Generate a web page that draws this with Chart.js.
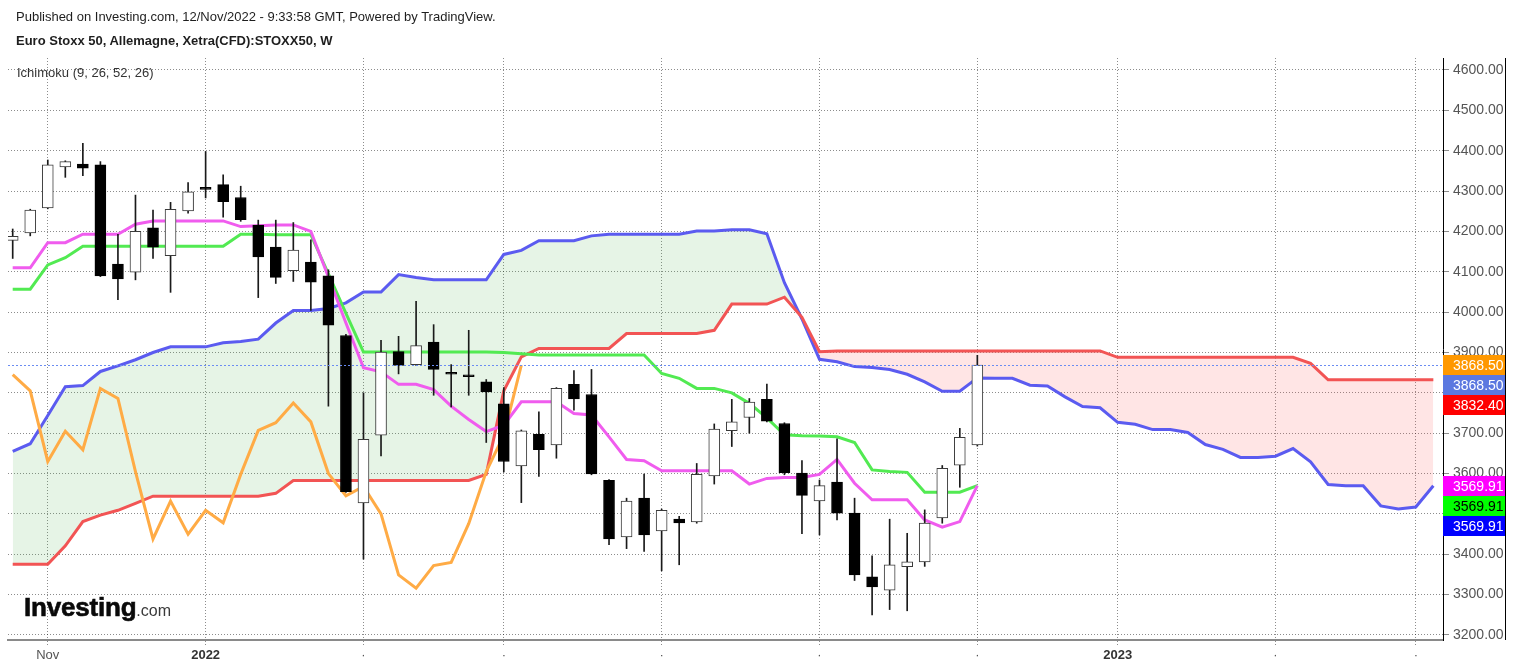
<!DOCTYPE html>
<html>
<head>
<meta charset="utf-8">
<title>Euro Stoxx 50 - Ichimoku</title>
<script src="https://cdn.jsdelivr.net/npm/chart.js@4.4.0/dist/chart.umd.min.js"></script>
<style>
  html, body { margin: 0; padding: 0; background: #fff; }
  #wrap { position: relative; width: 1513px; height: 668px; overflow: hidden; }
  #chart { position: absolute; left: 0; top: 0; }
  .txt { position: absolute; font-family: "Liberation Sans", Arial, sans-serif; color: #1e1e1e; white-space: nowrap; }
</style>
</head>
<body>
<div id="wrap">
  <canvas id="chart" width="1513" height="668"></canvas>
  <div class="txt" style="left:16px;top:9px;font-size:13px;line-height:15px;">Published on Investing.com, 12/Nov/2022 - 9:33:58 GMT, Powered by TradingView.</div>
  <div class="txt" style="left:16px;top:33px;font-size:13px;line-height:15px;font-weight:bold;">Euro Stoxx 50, Allemagne, Xetra(CFD):STOXX50, W</div>
  <div class="txt" style="left:17px;top:65px;font-size:13px;line-height:15px;color:#333;">Ichimoku (9, 26, 52, 26)</div>
  <div class="txt" style="left:24px;top:594px;line-height:26px;"><span style="font-size:26px;font-weight:bold;color:#0a0a0a;letter-spacing:-0.2px;-webkit-text-stroke:0.6px #0a0a0a;">Investing</span><span style="font-size:16px;color:#3a3a3a;">.com</span></div>
</div>
<script>
// weekly candles, index 0 = week of 18/Oct/2021, index 55 = week of 07/Nov/2022
const opens  = [4178, 4196, 4258, 4360, 4367, 4365, 4119, 4099, 4209, 4140, 4251, 4307, 4316, 4284, 4216, 4161, 4103, 4124, 4090, 3942,
                3527, 3695, 3902, 3870, 3926, 3849, 3843, 3827, 3773, 3619, 3697, 3671, 3821, 3796, 3583, 3443, 3539, 3458, 3487, 3480,
                3594, 3706, 3739, 3784, 3724, 3601, 3532, 3579, 3502, 3344, 3311, 3369, 3381, 3490, 3621, 3671];
const highs  = [4206, 4255, 4377, 4375, 4418, 4373, 4193, 4290, 4253, 4272, 4321, 4398, 4340, 4312, 4228, 4228, 4222, 4179, 4105, 3945,
                3800, 3930, 3940, 4027, 3969, 3870, 3955, 3833, 3813, 3708, 3753, 3813, 3855, 3858, 3585, 3539, 3599, 3512, 3494, 3625,
                3723, 3784, 3786, 3822, 3726, 3632, 3584, 3686, 3539, 3396, 3487, 3452, 3510, 3620, 3712, 3893];
const lows   = [4133, 4189, 4256, 4334, 4338, 4088, 4031, 4080, 4133, 4049, 4245, 4283, 4235, 4225, 4036, 4071, 4076, 4004, 3767, 3553,
                3388, 3644, 3847, 3868, 3794, 3765, 3794, 3677, 3604, 3528, 3593, 3638, 3757, 3597, 3424, 3414, 3407, 3359, 3374, 3477,
                3574, 3667, 3700, 3728, 3597, 3451, 3448, 3485, 3335, 3250, 3263, 3260, 3370, 3477, 3566, 3668];
const closes = [4188, 4253, 4365, 4373, 4357, 4090, 4082, 4200, 4161, 4255, 4298, 4304, 4274, 4229, 4137, 4086, 4154, 4074, 3968, 3555,
                3685, 3901, 3868, 3917, 3858, 3846, 3840, 3802, 3630, 3706, 3659, 3811, 3785, 3599, 3438, 3532, 3448, 3509, 3478, 3598,
                3710, 3728, 3777, 3730, 3602, 3546, 3570, 3502, 3349, 3319, 3374, 3381, 3477, 3613, 3690, 3868.5];

// Ichimoku lines
const conversionLine = [4110, 4110, 4172, 4172, 4193, 4193, 4193, 4218, 4226, 4226, 4226, 4226, 4226, 4212, 4214, 4216, 4216, 4200, 4087, 3973,
                        3862, 3852, 3821, 3821, 3808, 3767, 3734, 3704, 3720, 3778, 3778, 3778, 3749, 3745, 3691, 3635, 3632, 3607, 3607, 3607,
                        3607, 3607, 3574, 3588, 3590, 3590, 3598, 3635, 3576, 3535, 3535, 3535, 3485, 3467, 3481, 3569.91];
const baseLine = [4057, 4057, 4117, 4135, 4163, 4163, 4163, 4163, 4163, 4163, 4163, 4163, 4163, 4193, 4193, 4192, 4192, 4192, 4095, 3997,
                  3901, 3901, 3901, 3901, 3901, 3901, 3901, 3901, 3900, 3897, 3894, 3894, 3894, 3894, 3894, 3894, 3894, 3848, 3836, 3811,
                  3811, 3800, 3774, 3738, 3696, 3694, 3693, 3691, 3677, 3609, 3605, 3603, 3554, 3554, 3554, 3569.91];
const laggingSpan = [3845, 3805, 3630, 3705, 3659, 3811, 3786, 3605, 3438, 3532, 3450, 3509, 3478, 3598, 3707, 3726, 3775, 3728, 3600, 3545,
                     3568, 3500, 3349, 3316, 3372, 3380, 3476, 3605, 3695, 3868.5];
const leadingSpanA = [3655, 3674, 3744, 3815, 3818, 3853, 3867, 3882, 3900, 3914, 3914, 3914, 3924, 3927, 3933, 3973, 4004, 4004, 4009, 4023,
                      4050, 4050, 4093, 4086, 4080, 4080, 4080, 4080, 4143, 4153, 4177, 4177, 4177, 4189, 4193, 4193, 4193, 4193, 4193, 4201,
                      4201, 4204, 4204, 4194, 4073, 3983, 3883, 3877, 3865, 3863, 3858, 3846, 3827, 3804, 3804, 3837, 3836, 3836, 3819, 3817,
                      3790, 3766, 3763, 3727, 3722, 3709, 3709, 3702, 3672, 3660, 3640, 3640, 3643, 3662, 3629, 3573, 3570, 3570, 3520, 3512,
                      3517, 3569.91];
const leadingSpanB = [3375, 3375, 3375, 3421, 3481, 3497, 3509, 3526, 3544, 3544, 3544, 3544, 3544, 3544, 3544, 3551, 3583, 3583, 3583, 3583,
                      3583, 3583, 3583, 3583, 3583, 3583, 3583, 3598, 3805, 3889, 3910, 3910, 3910, 3910, 3910, 3947, 3947, 3947, 3947, 3947,
                      3955, 4020, 4020, 4020, 4037, 3987, 3902, 3904, 3904, 3904, 3904, 3904, 3904, 3904, 3904, 3904, 3904, 3904, 3904, 3904,
                      3904, 3904, 3904, 3888, 3888, 3888, 3888, 3888, 3888, 3888, 3888, 3888, 3888, 3888, 3873, 3832.4, 3832.4, 3832.4, 3832.4, 3832.4,
                      3832.4, 3832.4];

// axes
const xTickPos = [2, 11, 20, 28, 37, 46, 55, 63, 72, 80];
const xTickLabels = ['Nov', '2022', '·', '·', '·', '·', '·', '2023', '·', '·'];
const yTicks = [3200, 3300, 3400, 3500, 3600, 3700, 3800, 3900, 4000, 4100, 4200, 4300, 4400, 4500, 4600];

// price tags on the right axis
const lastPrice = 3868.50;
const tagValues = [3868.50, 3868.50, 3832.40, 3569.91, 3569.91, 3569.91];
const tagFills = ['#ff9800', '#5b78e0', '#ff0000', '#ff00ff', '#00ff00', '#0000ff'];
const tagInk = ['#fff', '#fff', '#fff', '#fff', '#000', '#fff'];

const FONT = '"Liberation Sans", Arial, sans-serif';
const pts = arr => arr.map((v, i) => ({ x: i, y: v }));
const isYear = c => /^\d{4}$/.test(xTickLabels[c.index] || '');

const overlay = {
  id: 'overlay',
  afterDatasetsDraw(chart) {
    const { ctx, chartArea: a, scales: { y } } = chart;
    const py = Math.round(y.getPixelForValue(lastPrice)) + 0.5;
    ctx.save();
    ctx.strokeStyle = '#6b8cf2';
    ctx.lineWidth = 1;
    ctx.setLineDash([2, 2]);
    ctx.beginPath();
    ctx.moveTo(a.left, py);
    ctx.lineTo(a.right, py);
    ctx.stroke();
    ctx.restore();
  },
  afterDraw(chart) {
    const { ctx, chartArea: a, scales: { y } } = chart;
    ctx.save();
    ctx.font = '14px ' + FONT;
    ctx.textBaseline = 'middle';
    let prev = -Infinity;
    tagValues.forEach((v, k) => {
      let cy = y.getPixelForValue(v);
      if (cy < prev + 20) cy = prev + 20;
      prev = cy;
      ctx.fillStyle = tagFills[k];
      ctx.fillRect(a.right, Math.round(cy - 10), 62, 20);
      ctx.fillStyle = tagInk[k];
      ctx.fillText(v.toFixed(2), a.right + 10, cy + 1);
    });
    ctx.fillStyle = '#000';
    ctx.fillRect(1505, a.top, 1, a.bottom - a.top);
    ctx.restore();
  }
};

const lineDs = (label, data, color, order) => ({
  type: 'line', label, data: pts(data), borderColor: color, borderWidth: 3,
  pointRadius: 0, pointHoverRadius: 0, tension: 0, fill: false, order
});

const spanA = lineDs('Leading Span A', leadingSpanA, '#5b5bf0', 6);
spanA.fill = { target: 1, above: 'rgba(76, 175, 80, 0.14)', below: 'rgba(255, 82, 82, 0.15)' };

const ctx = document.getElementById('chart').getContext('2d');
new Chart(ctx, {
  data: {
    datasets: [
      spanA,
      lineDs('Leading Span B', leadingSpanB, '#f25454', 5),
      lineDs('Lagging Span', laggingSpan, '#ffab45', 4),
      lineDs('Base Line', baseLine, '#52ea52', 3),
      lineDs('Conversion Line', conversionLine, '#f05cee', 2),
      {
        type: 'bar', label: 'wick', order: 1, grouped: false,
        data: lows.map((l, i) => ({ x: i, y: [l, highs[i]] })),
        backgroundColor: '#1a1a1a', barThickness: 1
      },
      {
        type: 'bar', label: 'body', order: 0, grouped: false,
        data: opens.map((o, i) => ({ x: i, y: [o, closes[i]] })),
        backgroundColor: c => closes[c.dataIndex] >= opens[c.dataIndex] ? '#ffffff' : '#000000',
        borderColor: c => closes[c.dataIndex] >= opens[c.dataIndex] ? '#3a3a3a' : '#000000',
        borderWidth: 1, borderSkipped: false, barThickness: 11, minBarLength: 2
      }
    ]
  },
  options: {
    responsive: false,
    animation: false,
    events: [],
    layout: { padding: { top: 58, left: 8, right: 0, bottom: 0 } },
    plugins: { legend: { display: false }, tooltip: { enabled: false } },
    scales: {
      x: {
        type: 'linear', min: -0.268, max: 81.55, offset: false,
        afterBuildTicks: s => { s.ticks = xTickPos.map(v => ({ value: v })); },
        afterFit: s => { s.height = 28; },
        ticks: {
          autoSkip: false, maxRotation: 0, padding: 3,
          callback: (v, i) => xTickLabels[i],
          color: c => isYear(c) ? '#333' : '#555',
          font: c => ({ family: FONT, size: 13, weight: isYear(c) ? 'bold' : 'normal' })
        },
        grid: { offset: false, color: 'rgba(0,0,0,0.45)', tickLength: 5, tickBorderDash: [1, 2] },
        border: { display: true, color: '#8a8a8a', width: 2, dash: [1, 2] }
      },
      y: {
        type: 'linear', position: 'right', min: 3187.6, max: 4629.7,
        afterBuildTicks: s => { s.ticks = yTicks.map(v => ({ value: v })); },
        afterFit: s => { s.width = 70; },
        ticks: { padding: 4, color: '#555', font: { family: FONT, size: 14 }, callback: v => v.toFixed(2) },
        grid: { color: 'rgba(0,0,0,0.45)', tickLength: 6, tickBorderDash: [] },
        border: { display: true, color: '#000', width: 1, dash: [1, 2] }
      }
    }
  },
  plugins: [overlay]
});
</script>
</body>
</html>
